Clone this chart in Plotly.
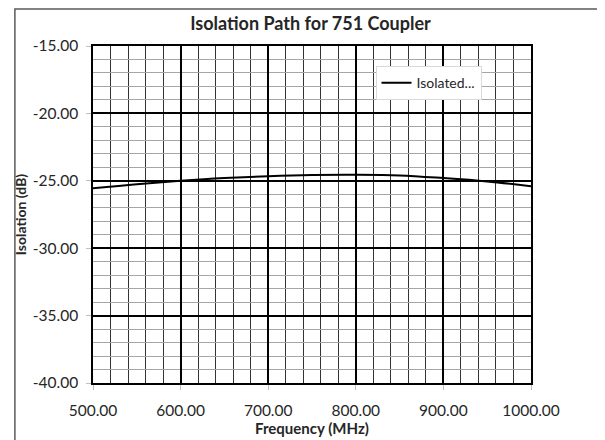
import plotly.graph_objects as go

# Isolation path values
frequency_mhz = [500, 550, 600, 650, 700, 750, 800, 850, 900, 950, 1000]
isolation_db = [-25.55, -25.25, -25.0, -24.8, -24.66, -24.57, -24.55, -24.6, -24.8, -25.05, -25.4]
series_name = "Isolated..."

y_ticks = [-40, -35, -30, -25, -20, -15]
y_labels = ["-40.00", "-35.00", "-30.00", "-25.00", "-20.00", "-15.00"]

FONT = "Lato"

# plot area in pixels, used only to place the outer frame
L, R, T, B = 80, 82, 38, 65
PW, PH = 605 - L - R, 440 - T - B

fig = go.Figure()

fig.add_trace(go.Scatter(
    x=frequency_mhz,
    y=isolation_db,
    mode="lines",
    name=series_name,
    line=dict(color="black", width=2, shape="spline", smoothing=1.0),
))

fig.update_layout(
    width=605,
    height=440,
    margin=dict(l=L, r=R, t=T, b=B),
    paper_bgcolor="white",
    plot_bgcolor="white",
    font=dict(family=FONT, size=15.5, color="#262626"),
    title=dict(
        text="<b>Isolation Path for 751 Coupler</b>",
        x=0.5, xanchor="center",
        y=0.965, yanchor="middle",
        font=dict(family=FONT, size=18, color="#262626"),
    ),
    showlegend=True,
    legend=dict(
        x=0.645, y=0.94, xanchor="left", yanchor="top",
        bgcolor="white",
        bordercolor="#d9d9d9",
        borderwidth=1,
        font=dict(family=FONT, size=14, color="#262626"),
        itemwidth=30,
        tracegroupgap=0,
    ),
)

fig.update_xaxes(
    range=[500, 1000],
    dtick=100,
    tickformat=".2f",
    showgrid=True,
    gridcolor="black",
    gridwidth=1.6,
    showline=True,
    linecolor="black",
    linewidth=1.5,
    mirror=True,
    ticks="outside",
    ticklen=5,
    tickcolor="#bfbfbf",
    ticklabelstandoff=8,
    zeroline=False,
    minor=dict(dtick=20, showgrid=True, gridcolor="#333333", gridwidth=1),
    title=dict(text="<b>Frequency (MHz)</b>", font=dict(family=FONT, size=15, color="#262626"), standoff=4),
)

fig.update_yaxes(
    range=[-40, -15],
    tickvals=y_ticks,
    ticktext=y_labels,
    showgrid=True,
    gridcolor="black",
    gridwidth=1.6,
    showline=True,
    linecolor="black",
    linewidth=1.5,
    mirror=True,
    ticks="outside",
    ticklen=5,
    tickcolor="#bfbfbf",
    ticklabelstandoff=5,
    zeroline=False,
    minor=dict(dtick=1, showgrid=True, gridcolor="#a6a6a6", gridwidth=1),
    title=dict(text="<b>Isolation (dB)</b>", font=dict(family=FONT, size=14, color="#262626"), standoff=3),
)

# outer chart-area frame
fig.add_shape(
    type="rect", xref="paper", yref="paper",
    x0=(1 - L) / PW, x1=(604 - L) / PW,
    y0=-(B - 2) / PH, y1=(PH + T - 1) / PH,
    line=dict(color="#595959", width=1.5),
    fillcolor="rgba(0,0,0,0)",
    layer="below",
)

fig.write_html("out.html")
